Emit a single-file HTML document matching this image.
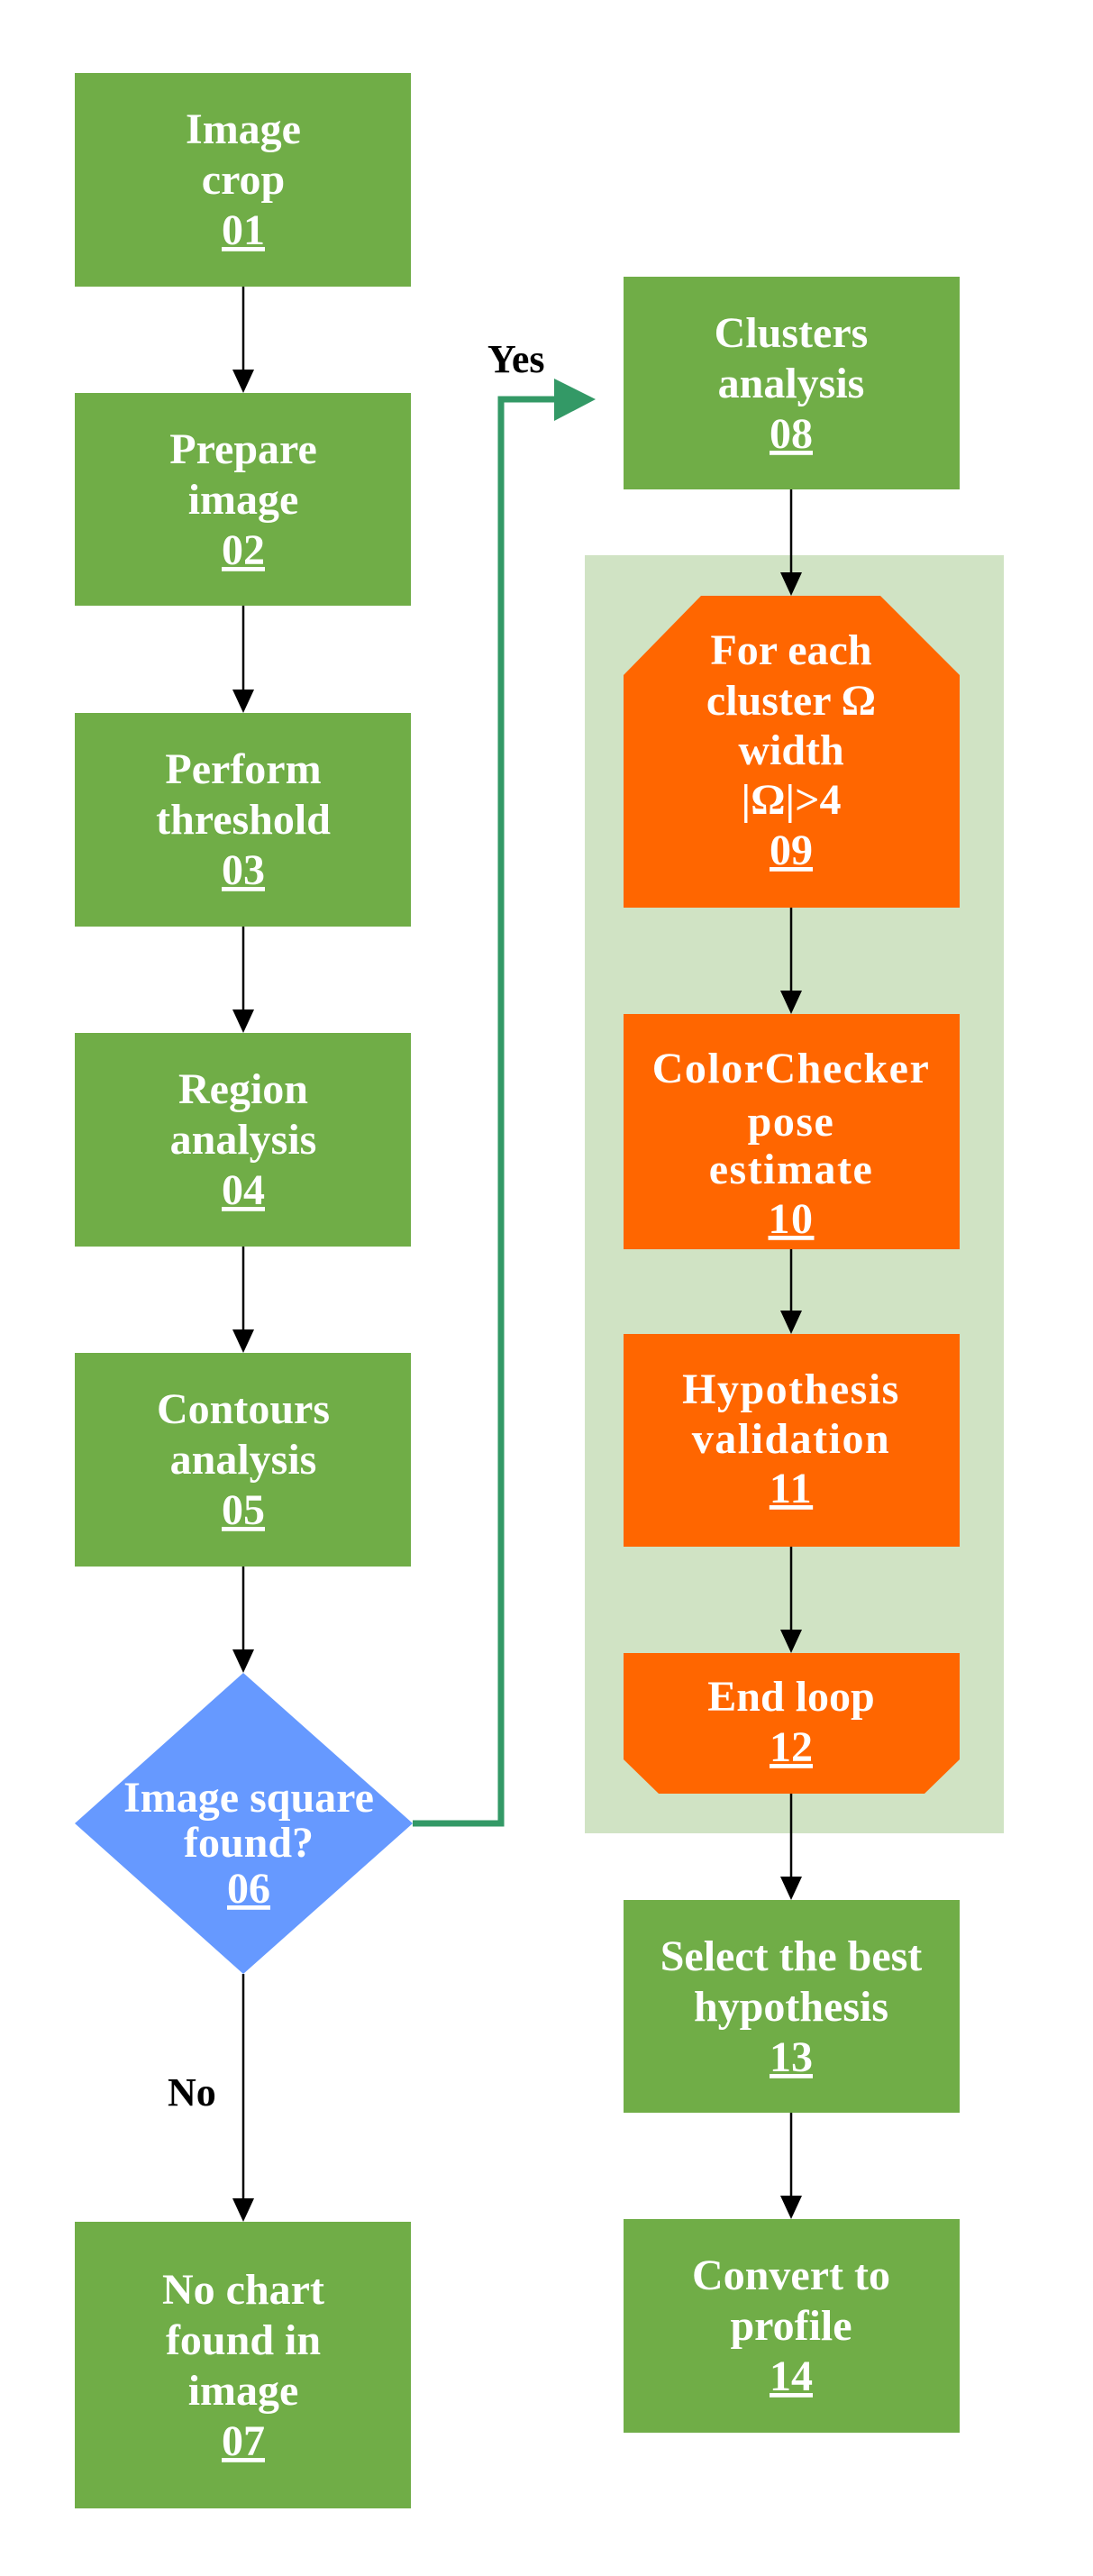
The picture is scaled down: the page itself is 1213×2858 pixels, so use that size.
<!DOCTYPE html>
<html><head><meta charset="utf-8"><style>
html,body{margin:0;padding:0;background:#fff;}
svg{display:block;}
text{font-family:"Liberation Serif",serif;font-weight:bold;font-size:48px;fill:#fff;text-anchor:middle;}
.u{text-decoration:underline;}
.sp{letter-spacing:1.5px;}
.lbl{fill:#000;font-size:44px;text-anchor:start;}
</style></head><body>
<svg width="1213" height="2858" viewBox="0 0 1213 2858" xmlns="http://www.w3.org/2000/svg">
<rect x="649" y="616" width="465" height="1418" fill="#D0E3C4"/>
<g fill="#70AD47">
<rect x="83" y="81" width="373" height="237"/>
<rect x="83" y="436" width="373" height="236"/>
<rect x="83" y="791" width="373" height="237"/>
<rect x="83" y="1146" width="373" height="237"/>
<rect x="83" y="1501" width="373" height="237"/>
<rect x="83" y="2465" width="373" height="318"/>
<rect x="692" y="307" width="373" height="236"/>
<rect x="692" y="2108" width="373" height="236"/>
<rect x="692" y="2462" width="373" height="237"/>
</g>
<polygon points="270,1856 458,2023 270,2190 83,2023" fill="#6699FF"/>
<g fill="#FF6600">
<polygon points="778,661 977,661 1065,749 1065,1007 692,1007 692,749"/>
<rect x="692" y="1125" width="373" height="261"/>
<rect x="692" y="1480" width="373" height="236"/>
<polygon points="692,1834 1065,1834 1065,1952 1026,1990 731,1990 692,1952"/>
</g>
<g stroke="#000" stroke-width="2.5">
<line x1="270" y1="318" x2="270" y2="410"/>
<line x1="270" y1="672" x2="270" y2="765"/>
<line x1="270" y1="1028" x2="270" y2="1120"/>
<line x1="270" y1="1383" x2="270" y2="1475"/>
<line x1="270" y1="1738" x2="270" y2="1830"/>
<line x1="270" y1="2190" x2="270" y2="2439"/>
<line x1="878" y1="543" x2="878" y2="635"/>
<line x1="878" y1="1007" x2="878" y2="1099"/>
<line x1="878" y1="1386" x2="878" y2="1454"/>
<line x1="878" y1="1716" x2="878" y2="1808"/>
<line x1="878" y1="1990" x2="878" y2="2082"/>
<line x1="878" y1="2344" x2="878" y2="2436"/>
</g>
<g fill="#000">
<polygon points="258,410 282,410 270,436"/>
<polygon points="258,765 282,765 270,791"/>
<polygon points="258,1120 282,1120 270,1146"/>
<polygon points="258,1475 282,1475 270,1501"/>
<polygon points="258,1830 282,1830 270,1856"/>
<polygon points="258,2439 282,2439 270,2465"/>
<polygon points="866,635 890,635 878,661"/>
<polygon points="866,1099 890,1099 878,1125"/>
<polygon points="866,1454 890,1454 878,1480"/>
<polygon points="866,1808 890,1808 878,1834"/>
<polygon points="866,2082 890,2082 878,2108"/>
<polygon points="866,2436 890,2436 878,2462"/>
</g>
<polyline points="458,2023 556,2023 556,443 618,443" fill="none" stroke="#339966" stroke-width="7"/>
<polygon points="615,420 661,443 615,467" fill="#339966"/>
<text class="lbl" x="541" y="413">Yes</text>
<text class="lbl" x="186" y="2336">No</text>
<text x="270" y="159">Image</text><text x="270" y="215">crop</text><text x="270" y="271" class="u">01</text>
<text x="270" y="514">Prepare</text><text x="270" y="570">image</text><text x="270" y="626" class="u">02</text>
<text x="270" y="869">Perform</text><text x="270" y="925">threshold</text><text x="270" y="981" class="u">03</text>
<text x="270" y="1224">Region</text><text x="270" y="1280">analysis</text><text x="270" y="1336" class="u">04</text>
<text x="270" y="1579">Contours</text><text x="270" y="1635">analysis</text><text x="270" y="1691" class="u">05</text>
<text x="276" y="2010">Image square</text><text x="276" y="2060">found?</text><text x="276" y="2111" class="u">06</text>
<text x="270" y="2556">No chart</text><text x="270" y="2612">found in</text><text x="270" y="2668">image</text><text x="270" y="2724" class="u">07</text>
<text x="878" y="385">Clusters</text><text x="878" y="441">analysis</text><text x="878" y="497" class="u">08</text>
<text x="878" y="737">For each</text><text x="878" y="793">cluster Ω</text><text x="878" y="848">width</text><text x="878" y="903">|Ω|&gt;4</text><text x="878" y="959" class="u">09</text>
<text x="878" y="1201" class="sp">ColorChecker</text><text x="878" y="1260" class="sp">pose</text><text x="878" y="1313" class="sp">estimate</text><text x="878" y="1368" class="u sp">10</text>
<text x="878" y="1557" class="sp">Hypothesis</text><text x="878" y="1612" class="sp">validation</text><text x="878" y="1667" class="u sp">11</text>
<text x="878" y="1898">End loop</text><text x="878" y="1954" class="u">12</text>
<text x="878" y="2186">Select the best</text><text x="878" y="2242">hypothesis</text><text x="878" y="2298" class="u">13</text>
<text x="878" y="2540">Convert to</text><text x="878" y="2596">profile</text><text x="878" y="2652" class="u">14</text>
</svg>
</body></html>
